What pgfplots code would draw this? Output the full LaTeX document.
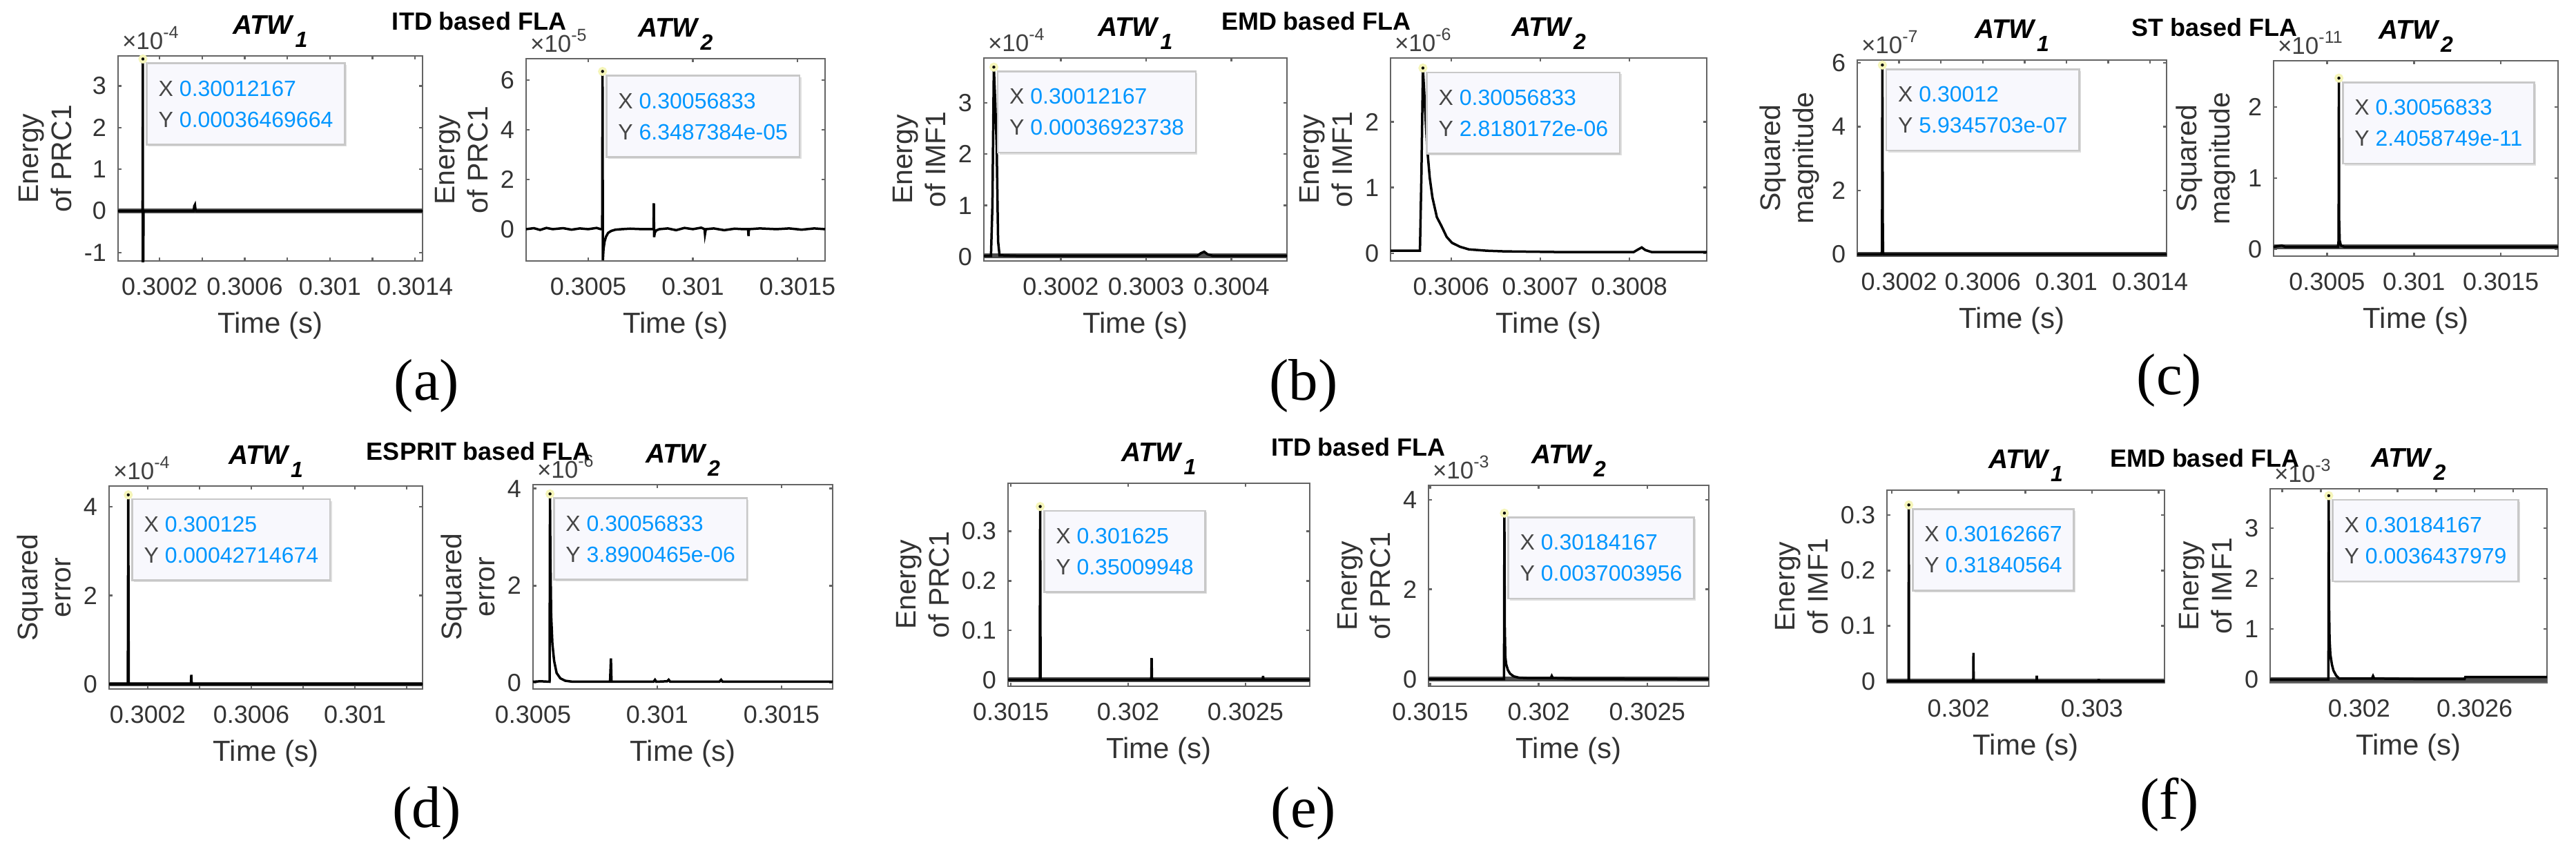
\documentclass[border=0pt]{standalone}
\usepackage{pgfplots}
\pgfplotsset{compat=1.18}
\usepackage{fontspec}
\setmainfont{Liberation Sans}
\newfontfamily\seriffont{Liberation Serif}
\usetikzlibrary{shadows}

\definecolor{tipblue}{RGB}{0,150,255}
\definecolor{tipgray}{RGB}{70,70,70}
\definecolor{tipfill}{RGB}{248,248,253}
\definecolor{tipdraw}{RGB}{200,200,200}
\definecolor{tiphalo}{RGB}{245,245,185}
\definecolor{axgray}{RGB}{100,100,100}

\newcommand{\atw}[1]{\node[anchor=base, yshift=6.4pt, inner sep=0pt, font=\bfseries\itshape\fontsize{7.8}{9}\selectfont] at (rel axis cs:0.5,1) {ATW\hspace{0.8pt}\raisebox{-3.8pt}{\fontsize{6.4}{7}\selectfont\bfseries\itshape #1}};}
\newcommand{\mult}[1]{\node[anchor=base west, xshift=1pt, yshift=2pt, inner sep=0pt, font=\fontsize{7}{8}\selectfont, text=black!75] at (rel axis cs:0,1) {×10\textsuperscript{#1}};}
\newcommand{\tip}[4]{%
  \addplot[only marks, mark=*, mark size=0.9pt, mark options={fill=black, draw=tiphalo, line width=0.8pt}] coordinates {(#1,#2)};
  \node[anchor=north west, xshift=0.9pt, yshift=-1pt, align=left, fill=tipfill, draw=tipdraw, line width=0.5pt,
        drop shadow={shadow xshift=0.5pt, shadow yshift=-0.5pt, opacity=0.25},
        inner xsep=3.4pt, inner ysep=5pt, font=\fontsize{6.4}{7.6}\selectfont]
     at (axis cs:#1,#2) {\textcolor{tipgray}{X} \textcolor{tipblue}{#3}\\[1.4pt]\textcolor{tipgray}{Y} \textcolor{tipblue}{#4}};
}

\pgfplotsset{
  mat/.style={
    scale only axis, clip=false, anchor=south west,
    axis line style={axgray, line width=0.55pt},
    every tick/.style={axgray, line width=0.5pt},
    major tick length=1pt,
    tick align=inside,
    scaled ticks=false,
    /pgf/number format/assume math mode=true,
    ticklabel style={font=\fontsize{7.2}{8}\selectfont, text=black!80},
    xticklabel style={anchor=base, inner sep=0pt, yshift=-9.8pt},
    yticklabel style={anchor=east, inner sep=0pt, xshift=-3.2pt},
    xlabel={Time (s)},
    xlabel style={font=\fontsize{8.4}{9}\selectfont, text=black!80, at={(axis description cs:0.5,0)}, anchor=base, yshift=-20.8pt},
    ylabel style={font=\fontsize{8.2}{9.6}\selectfont, text=black!80, align=center},
  },
  sig/.style={black, line width=0.7pt},
  bl/.style={black!70, line width=1.3pt},
}

\begin{document}
\begin{tikzpicture}
\tikzset{sup/.style={font=\bfseries\fontsize{7.2}{8}\selectfont}, plab/.style={font=\seriffont\fontsize{17}{20}\selectfont}}

% ---------------- (a) ITD ----------------
\begin{axis}[mat, at={(34.2pt,-75.6pt)}, width=88.2pt, height=59.4pt,
  xmin=5, xmax=1435, ymin=-1.2, ymax=3.72,
  xtick={200,400,600,800,1000,1200,1400}, xticklabels={0.3002,,0.3006,,0.301,,0.3014},
  ytick={-1,0,1,2,3}, ylabel={Energy\\of PRC1}]
\addplot[bl] coordinates {(5,0)(1435,0)};
\addplot[sig] coordinates {(5,0)(60,0)(110,0)(120,0)(121.67,3.6469664)(121.67,-1.2)(123.33,-1.2)(125,0)(200,0)(300,0)(360,0)(363,0.12)(366,0.15)(369,0.02)(372,0)(600,0)(900,0)(1200,0)(1435,0)};
\tip{121.67}{3.6469664}{0.30012167}{0.00036469664}
\mult{-4}
\atw{1}
\end{axis}

\begin{axis}[mat, at={(152.4pt,-75.6pt)}, width=86.6pt, height=58.6pt,
  xmin=203, xmax=1632, ymin=-1.28, ymax=6.86,
  xtick={500,1000,1500}, xticklabels={0.3005,0.301,0.3015},
  ytick={0,2,4,6}, ylabel={Energy\\of PRC1}]
\addplot[sig] coordinates {(203,0)(240,0.04)(270,-0.03)(300,0.05)(330,0)(380,0.04)(420,-0.02)(460,0.03)(500,0)(540,0.05)(560,0)(566.67,0)(568.33,6.3487384)(570,-1.25)(573,-0.8)(578,-0.5)(585,-0.3)(595,-0.15)(610,-0.07)(630,-0.02)(660,0)(700,0.02)(760,0)(812,0)(813.5,1.04)(815,-0.32)(818,-0.15)(825,-0.05)(840,0)(880,0.03)(920,-0.04)(960,0.05)(1000,0)(1040,0.06)(1056,0)(1058,-0.2)(1062,0)(1100,0.03)(1150,-0.04)(1200,0.02)(1240,0)(1264,0)(1266,-0.28)(1268,0)(1320,0.03)(1400,0)(1460,0.03)(1520,-0.02)(1580,0.03)(1632,0)};
\tip{568.33}{6.3487384}{0.30056833}{6.3487384e-05}
\mult{-5}
\atw{2}
\end{axis}
\node[sup] at (138.8pt,-6.2pt) {ITD based FLA};
\node[plab] at (123.6pt,-111.8pt) {(a)};

% ---------------- (b) EMD ----------------
\begin{axis}[mat, at={(285pt,-75.6pt)}, width=87.8pt, height=58.8pt,
  xmin=110, xmax=465, ymin=-0.08, ymax=3.87,
  xtick={200,300,400}, xticklabels={0.3002,0.3003,0.3004},
  ytick={0,1,2,3}, ylabel={Energy\\of IMF1}]
\addplot[bl] coordinates {(110,0.02)(465,0.02)};
\addplot[sig] coordinates {(110,0.02)(118.33,0.02)(120,1.0)(121.67,3.6923738)(123.33,3.0)(125,2.15)(126.67,0.3)(128.33,0.03)(150,0.02)(250,0.02)(360,0.02)(364,0.07)(368,0.1)(372,0.05)(378,0.02)(465,0.02)};
\tip{121.67}{3.6923738}{0.30012167}{0.00036923738}
\mult{-4}
\atw{1}
\end{axis}

\begin{axis}[mat, at={(402.8pt,-75.6pt)}, width=91.6pt, height=58.8pt,
  xmin=532, xmax=887, ymin=-0.116, ymax=2.97,
  xtick={600,700,800}, xticklabels={0.3006,0.3007,0.3008},
  ytick={0,1,2}, ylabel={Energy\\of IMF1}]
\addplot[sig] coordinates {(532,0.04)(550,0.04)(565,0.04)(566.67,1.2)(568.33,2.8180172)(570,2.4)(573,1.62)(576,1.15)(579,0.85)(584,0.55)(589,0.42)(595,0.25)(601,0.16)(610,0.1)(620,0.06)(640,0.04)(660,0.03)(720,0.02)(800,0.02)(805,0.02)(810,0.06)(814,0.09)(818,0.05)(825,0.02)(887,0.02)};
\tip{568.33}{2.8180172}{0.30056833}{2.8180172e-06}
\mult{-6}
\atw{2}
\end{axis}
\node[sup] at (381.2pt,-6.2pt) {EMD based FLA};
\node[plab] at (377.6pt,-111.8pt) {(b)};

% ---------------- (c) ST ----------------
\begin{axis}[mat, at={(538pt,-74.2pt)}, width=89.6pt, height=56.8pt,
  xmin=0, xmax=1479, ymin=-0.06, ymax=6.09,
  xtick={200,400,600,800,1000,1200,1400}, xticklabels={0.3002,,0.3006,,0.301,,0.3014},
  ytick={0,2,4,6}, ylabel={Squared\\magnitude}]
\addplot[bl] coordinates {(0,0)(1479,0)};
\addplot[sig] coordinates {(0,0)(60,0)(115,0)(118.33,0.1)(120,5.9345703)(121.67,1.2)(123.33,0.05)(126,0)(400,0)(800,0)(1200,0)(1479,0)};
\tip{120}{5.9345703}{0.30012}{5.9345703e-07}
\mult{-7}
\atw{1}
\end{axis}

\begin{axis}[mat, at={(658.6pt,-74.2pt)}, width=82.4pt, height=56.6pt,
  xmin=193, xmax=1829, ymin=-0.1, ymax=2.65,
  xtick={500,1000,1500}, xticklabels={0.3005,0.301,0.3015},
  ytick={0,1,2}, ylabel={Squared\\magnitude}]
\addplot[bl] coordinates {(193,0.03)(1829,0.03)};
\addplot[sig] coordinates {(193,0.03)(240,0.05)(260,0.03)(500,0.03)(563,0.03)(566.67,0.12)(568.33,2.4058749)(570,0.4)(573,0.12)(580,0.05)(600,0.03)(1000,0.03)(1400,0.03)(1829,0.03)};
\tip{568.33}{2.4058749}{0.30056833}{2.4058749e-11}
\mult{-11}
\atw{2}
\end{axis}
\node[sup] at (641.4pt,-8pt) {ST based FLA};
\node[plab] at (628.4pt,-110.2pt) {(c)};

% ---------------- (d) ESPRIT ----------------
\begin{axis}[mat, at={(31.6pt,-199.6pt)}, width=90.8pt, height=58.8pt,
  xmin=51, xmax=1261, ymin=-0.11, ymax=4.47,
  xtick={200,400,600,800,1000,1200}, xticklabels={0.3002,,0.3006,,0.301,},
  ytick={0,2,4}, ylabel={Squared\\error}]
\addplot[bl] coordinates {(51,0)(1261,0)};
\addplot[sig] coordinates {(51,0)(123.33,0)(125,4.2714674)(126.67,0)(366.67,0)(368.33,0.21)(370,0)(800,0)(1261,0)};
\tip{125}{4.2714674}{0.300125}{0.00042714674}
\mult{-4}
\atw{1}
\end{axis}

\begin{axis}[mat, at={(154.4pt,-199.6pt)}, width=86.8pt, height=59.2pt,
  xmin=500, xmax=1706, ymin=-0.13, ymax=4.08,
  xtick={500,1000,1500}, xticklabels={0.3005,0.301,0.3015},
  ytick={0,2,4}, ylabel={Squared\\error}]
\addplot[sig] coordinates {(500,0.02)(530,0.03)(566.67,0.02)(568.33,3.8900465)(570,2.6)(573,1.4)(578,0.8)(585,0.45)(595,0.2)(610,0.09)(630,0.04)(660,0.02)(810,0.02)(813.5,0.5)(816,0.02)(900,0.02)(985,0.02)(991,0.06)(996,0.02)(1040,0.03)(1046,0.06)(1052,0.02)(1250,0.02)(1257,0.06)(1263,0.02)(1706,0.02)};
\tip{568.33}{3.8900465}{0.30056833}{3.8900465e-06}
\mult{-6}
\atw{2}
\end{axis}
\node[sup] at (138.6pt,-130.8pt) {ESPRIT based FLA};
\node[plab] at (123.6pt,-235.6pt) {(d)};

% ---------------- (e) ITD ----------------
\begin{axis}[mat, at={(292pt,-198.8pt)}, width=87.4pt, height=58.8pt,
  xmin=1488, xmax=2774, ymin=-0.013, ymax=0.397,
  xtick={1500,2000,2500}, xticklabels={0.3015,0.302,0.3025},
  ytick={0,0.1,0.2,0.3}, ylabel={Energy\\of PRC1}]
\addplot[bl] coordinates {(1488,0)(2774,0)};
\addplot[sig] coordinates {(1488,0)(1623.33,0)(1625,0.35009948)(1626.67,0)(2098.33,0)(2100,0.044)(2101.67,0)(2573.33,0)(2575,0.008)(2576.67,0)(2774,0)};
\tip{1625}{0.35009948}{0.301625}{0.35009948}
\atw{1}
\end{axis}

\begin{axis}[mat, at={(413.8pt,-198.8pt)}, width=81.2pt, height=58.2pt,
  xmin=1492, xmax=2784, ymin=-0.16, ymax=4.32,
  xtick={1500,2000,2500}, xticklabels={0.3015,0.302,0.3025},
  ytick={0,2,4}, ylabel={Energy\\of PRC1}]
\addplot[bl] coordinates {(1492,0)(2784,0)};
\addplot[sig] coordinates {(1492,0)(1840,0)(1841.67,3.7003956)(1843.33,1.2)(1846,0.5)(1850,0.33)(1858,0.2)(1868,0.12)(1885,0.06)(1910,0.03)(1950,0.02)(2055,0.02)(2060,0.07)(2065,0.02)(2150,0.01)(2784,0)};
\tip{1841.67}{3.7003956}{0.30184167}{0.0037003956}
\mult{-3}
\atw{2}
\end{axis}
\node[sup] at (393.4pt,-129.6pt) {ITD based FLA};
\node[plab] at (377.6pt,-235.6pt) {(e)};

% ---------------- (f) EMD ----------------
\begin{axis}[mat, at={(546.6pt,-197.8pt)}, width=80.4pt, height=55.8pt,
  xmin=1463, xmax=3545, ymin=-0.003, ymax=0.345,
  xtick={1500,2000,2500,3000,3500}, xticklabels={,0.302,,0.303,},
  ytick={0,0.1,0.2,0.3}, ylabel={Energy\\of IMF1}]
\addplot[bl] coordinates {(1463,0)(3545,0)};
\addplot[sig] coordinates {(1463,0)(1625,0)(1626.67,0.31840564)(1628.33,0)(2110,0)(2111.67,0.051)(2113.33,0)(2585,0)(2586.67,0.01)(2588.33,0)(3050,0)(3051.67,0.004)(3053.33,0)(3545,0)};
\tip{1626.67}{0.31840564}{0.30162667}{0.31840564}
\atw{1}
\end{axis}

\begin{axis}[mat, at={(657.6pt,-197.8pt)}, width=80.2pt, height=56.2pt,
  xmin=1537, xmax=2977, ymin=-0.065, ymax=3.78,
  xtick={1600,1800,2000,2200,2400,2600,2800}, xticklabels={,,0.302,,,0.3026,},
  ytick={0,1,2,3}, ylabel={Energy\\of IMF1}]
\addplot[bl] coordinates {(1537,0)(2977,0)};
\addplot[sig] coordinates {(1537,0)(1700,0)(1840,0)(1841.67,3.6437979)(1843.33,1.5)(1846,0.8)(1850,0.5)(1858,0.3)(1866,0.18)(1880,0.08)(1896,0.02)(2066,0.02)(2072,0.07)(2078,0.02)(2300,0.01)(2548,0.01)(2552,0.05)(2977,0.05)};
\tip{1841.67}{3.6437979}{0.30184167}{0.0036437979}
\mult{-3}
\atw{2}
\end{axis}
\node[sup] at (638.6pt,-132.8pt) {EMD based FLA};
\node[plab] at (628.4pt,-233.2pt) {(f)};

\pgfresetboundingbox
\path[use as bounding box] (0,0) rectangle (746.2pt,-247.2pt);
\end{tikzpicture}
\end{document}
